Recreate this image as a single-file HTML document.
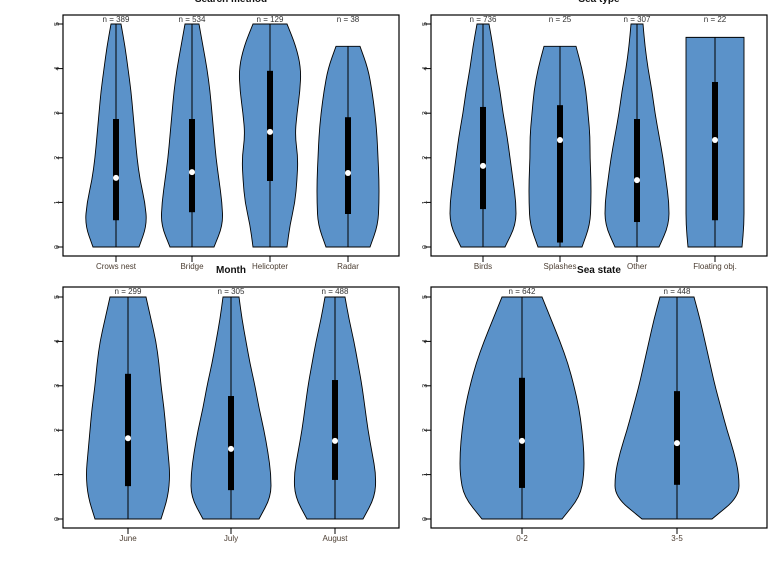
<!DOCTYPE html>
<html><head><meta charset="utf-8"><style>
body{margin:0;background:#fff}
svg{display:block;font-family:"Liberation Sans",sans-serif}
</style></head><body>
<svg id="c" width="768" height="576" viewBox="0 0 768 576"></svg>
<script>
// ---- data ----
const smCats=["Crows nest","Bridge","Helicopter","Radar"];
const smN=[389,534,129,38];
const smQ1=[0.6,0.78,1.48,0.74];
const smQ3=[2.87,2.87,3.95,2.91];
const smMed=[1.55,1.68,2.58,1.66];
const smMax=[5,5,5,4.5];
const smDens=[[23,31,29,24,21,19,17,15,12,9,5],[22,31,30,27,24,22,20,18,15,11,7],[17,20,25,27,28,25,27,30,31,26,17],[22,30,31,31,30,29,27,24,20,12]];

const stCats=["Birds","Splashes","Other","Floating obj."];
const stN=[736,25,307,22];
const stQ1=[0.85,0.1,0.56,0.6];
const stQ3=[3.14,3.18,2.87,3.7];
const stMed=[1.82,2.4,1.5,2.4];
const stMax=[5,4.5,5,4.7];
const stDens=[[22,33,33,30,27,24,20,17,13,10,6],[22,30,31,31,30,30,28,26,22,16],[22,32,32,29,26,22,18,15,11,8,6],[27,29,29,29,29,29,29,29,29,29]];

const moCats=["June","July","August"];
const moN=[299,305,488];
const moQ1=[0.74,0.65,0.88];
const moQ3=[3.27,2.77,3.13];
const moMed=[1.82,1.58,1.76];
const moMax=[5,5,5];
const moDens=[[33,40,42,40,38,36,33,31,28,23,18],[28,40,40,37,33,28,24,19,15,11,8],[28,40,41,37,33,30,27,23,19,14,10]];

const ssCats=["0-2","3-5"];
const ssN=[642,448];
const ssQ1=[0.7,0.77];
const ssQ3=[3.18,2.88];
const ssMed=[1.76,1.71];
const ssMax=[5,5];
const ssDens=[[40,58,62,62,60,57,52,46,38,29,20],[35,62,62,57,50,44,38,33,28,23,17]];

const yTicks=[0,1,2,3,4,5];

const NS="http://www.w3.org/2000/svg";
const svg=document.getElementById('c');
function mk(tag,attrs,parent){const e=document.createElementNS(NS,tag);for(const k in attrs)e.setAttribute(k,attrs[k]);(parent||svg).appendChild(e);return e;}

function panel(px,py,pw,ph,yTop,yBot,xc,title,titleY,cats,ns,q1,q3,med,vmax,dens,key){
  const g=mk('g',{});
  
  
  const y=v=>yBot-(yBot-yTop)*v/5;
  const x=i=>px+xc(i);
  const t=mk('text',{x:px+pw/2,y:titleY,'text-anchor':'middle','font-size':10,'font-weight':'bold',fill:'#111'},g);
  t.textContent=title;
  
  
  cats.forEach((c,i)=>{
    const cx=x(i);
    const d=dens[i];
    const pts=[];
    for(let k=0;k<d.length;k++){const v=(k===d.length-1)?vmax[i]:Math.min(k*0.5,vmax[i]);pts.push([d[k],y(v)]);}
    let path=`M${cx-d[0]},${y(0)} L${cx+d[0]},${y(0)}`;
    const sm=(side)=>{let s='';const P=side>0?pts:pts.slice().reverse();
      for(let k=1;k<P.length;k++){const a=P[k-1],b=P[k];const mx=(a[0]+b[0])/2,my=(a[1]+b[1])/2;
        s+=` Q${cx+side*a[0]},${a[1]} ${cx+side*mx},${my}`;}
      const L=P[P.length-1];s+=` L${cx+side*L[0]},${L[1]}`;return s;};
    path+=sm(1);
    const top=pts[pts.length-1];
    path+=` L${cx-top[0]},${top[1]}`;
    path+=sm(-1);
    path+=' Z';
    const v=mk('path',{d:path,fill:'#5b92c9',stroke:'#000','stroke-width':0.9},g);
    
    
    const w=mk('line',{x1:cx,x2:cx,y1:y(0),y2:y(vmax[i]),stroke:'#000','stroke-width':1},g);
    
    
    const b=mk('rect',{x:cx-3,y:y(q3[i]),width:6,height:y(q1[i])-y(q3[i]),fill:'#000'},g);
    
    
    const m=mk('circle',{cx:cx,cy:y(med[i]),r:3,fill:'#fff'},g);
    
    
    const nl=mk('text',{x:cx,y:py+7,'text-anchor':'middle','font-size':8,fill:'#333'},g);
    nl.textContent='n = '+ns[i];
    
    
    mk('line',{x1:cx,x2:cx,y1:py+ph,y2:py+ph+6,stroke:'#000'},g);
    const xl=mk('text',{x:cx,y:py+ph+13,'text-anchor':'middle','font-size':8,fill:'#4a3c30'},g);
    xl.textContent=c;
    
    
  });
  yTicks.forEach(v=>{
    mk('line',{x1:px-7,x2:px,y1:y(v),y2:y(v),stroke:'#000'},g);
    const tl=mk('text',{x:px-4,y:y(v),'text-anchor':'middle','font-size':7,fill:'#333',transform:`rotate(-90 ${px-4} ${y(v)})`},g);
    tl.textContent=v;
    
    
  });
  mk('rect',{x:px,y:py,width:pw,height:ph,fill:'none',stroke:'#000','stroke-width':1.2},g);
}
const xc4=i=>[53,129,207,285][i];
const xc4b=i=>[52,129,206,284][i];
const xc3=i=>[65,168,272][i];
const xc2=i=>[91,246][i];
panel(63,15,336,241,24,247,xc4,"Search method",2,smCats,smN,smQ1,smQ3,smMed,smMax,smDens,'search-method');
panel(431,15,336,241,24,247,xc4b,"Sea type",2,stCats,stN,stQ1,stQ3,stMed,stMax,stDens,'sea-type');
panel(63,287,336,241,297,519,xc3,"Month",273,moCats,moN,moQ1,moQ3,moMed,moMax,moDens,'month');
panel(431,287,336,241,297,519,xc2,"Sea state",273,ssCats,ssN,ssQ1,ssQ3,ssMed,ssMax,ssDens,'sea-state');
</script>
</body></html>
